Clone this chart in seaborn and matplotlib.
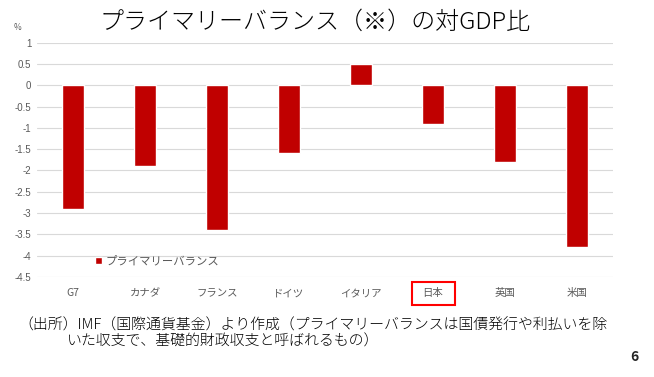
import matplotlib
matplotlib.use("Agg")
import matplotlib.pyplot as plt
import seaborn as sns
import pandas as pd
from matplotlib.patches import Rectangle

categories = ["G7", "カナダ", "フランス", "ドイツ", "イタリア", "日本", "英国", "米国"]
values = [-2.9, -1.9, -3.4, -1.6, 0.5, -0.9, -1.8, -3.8]
yticks = [1, 0.5, 0, -0.5, -1, -1.5, -2, -2.5, -3, -3.5, -4, -4.5]
series_name = "プライマリーバランス"

sns.set_theme(style="white")
plt.rcParams['font.family'] = ['Noto Sans CJK JP', 'DejaVu Sans']

df = pd.DataFrame({"country": categories, "value": values, "series": series_name})

fig = plt.figure(figsize=(6.54, 3.77), dpi=100)
ax = fig.add_axes([37/654, 1-277/377, (613-37)/654, (277-42.7)/377])

sns.barplot(data=df, x="country", y="value", hue="series", palette=["#C00000"],
            width=0.314, ax=ax, saturation=1, legend=True)

ax.set_xlim(-0.5, len(categories) - 0.5)
ax.set_ylim(-4.5, 1)
ax.set_yticks(yticks)
ax.set_yticklabels([f"{t:g}" for t in yticks], fontsize=7, color="#595959",
                   family=["Liberation Sans", "DejaVu Sans"])
ax.yaxis.grid(True, color="#D9D9D9", linewidth=0.8)
ax.set_axisbelow(True)
for s in ax.spines.values():
    s.set_visible(False)
ax.tick_params(axis="both", length=0, pad=4)
ax.tick_params(axis="x", pad=8)
ax.set_xlabel("")
ax.set_ylabel("")
ax.set_xticks(range(len(categories)))
ax.set_xticklabels(categories, fontsize=7.5, color="#595959")

leg = ax.legend(loc="lower left", bbox_to_anchor=(0.093, 0.025), frameon=False,
                fontsize=8.2, handlelength=0.6, handleheight=0.6, handletextpad=0.3,
                borderaxespad=0)
for t in leg.get_texts():
    t.set_color("#595959")

# red box around 日本 label
fig.patches.append(Rectangle((412/654, 1-305/377), (455-412)/654, (305-282)/377,
                             transform=fig.transFigure, fill=False,
                             edgecolor="#FF0000", linewidth=1.5))

fig.text(14/654, 1-28/377, "%", fontsize=6, color="#595959", ha="left", va="center")
fig.text(315/654, 1-22/377, "プライマリーバランス（※）の対GDP比", fontsize=17.3,
         ha="center", va="center", color="black", fontweight="light")
fig.text(18/654, 1-325/377, "（出所）IMF（国際通貨基金）より作成（プライマリーバランスは国債発行や利払いを除",
         fontsize=10.75, ha="left", va="center", color="black", fontweight="light")
fig.text(67/654, 1-342/377, "いた収支で、基礎的財政収支と呼ばれるもの）",
         fontsize=10.75, ha="left", va="center", color="black", fontweight="light")
fig.text(634/654, 1-357/377, "6", fontsize=10, fontweight="bold", ha="center", va="center")

fig.savefig("out.png", dpi=100)
